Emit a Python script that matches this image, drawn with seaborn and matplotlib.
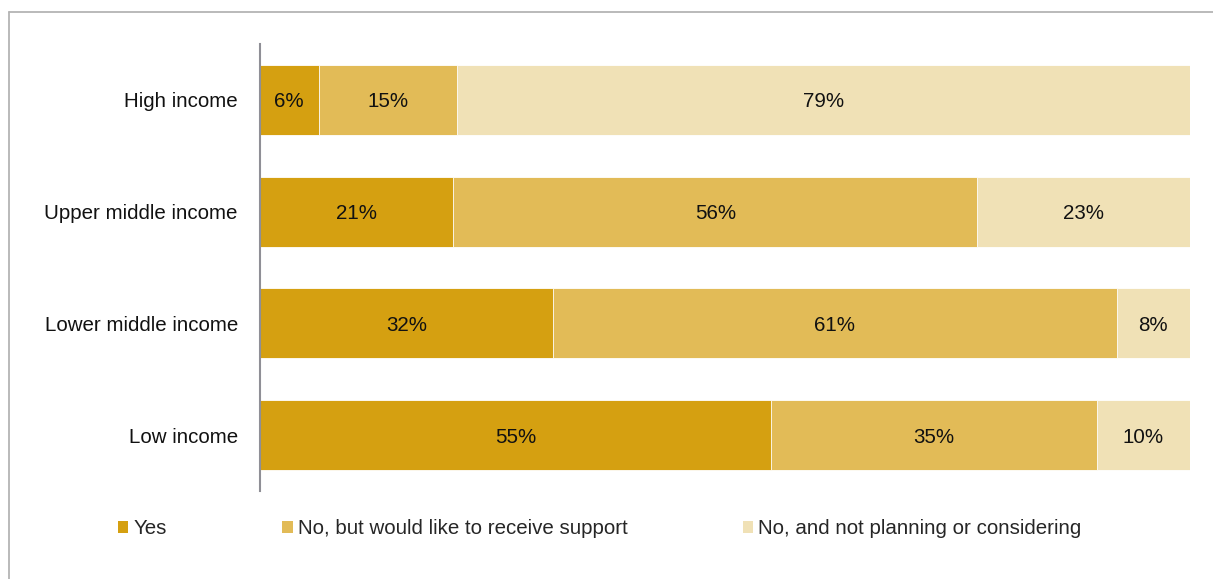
import matplotlib
matplotlib.use("Agg")
import matplotlib.pyplot as plt
from matplotlib.patches import Patch
from matplotlib.lines import Line2D
import seaborn as sns
import pandas as pd
import numpy as np

categories = ["High income", "Upper middle income", "Lower middle income", "Low income"]
series_names = ["Yes", "No, but would like to receive support", "No, and not planning or considering"]
yes_vals = [6.3, 20.8, 31.5, 54.9]
no_support_vals = [14.9, 56.3, 60.6, 35.1]
no_plan_vals = [78.8, 22.9, 7.9, 10.0]
colors = ["#D5A011", "#E2BB57", "#F0E1B6"]

sns.set_theme(style="white")
plt.rcParams['font.family'] = ['Liberation Sans', 'DejaVu Sans']
FS = 14.8

df = pd.DataFrame({"category": categories, series_names[0]: yes_vals,
                   series_names[1]: no_support_vals, series_names[2]: no_plan_vals})
vals = df[series_names].to_numpy(dtype=float)
cum = np.cumsum(vals, axis=1)
starts = cum - vals

fig = plt.figure(figsize=(12.13, 5.79), dpi=100)
ax = fig.add_axes([260/1213, 1-491/579, (1190-260)/1213, (491-44)/579])

for i in reversed(range(3)):
    d = pd.DataFrame({"category": categories, "value": cum[:, i]})
    sns.barplot(data=d, x="value", y="category", order=categories, orient="h",
                color=colors[i], saturation=1, width=0.625, edgecolor="white",
                linewidth=0.6, ax=ax)

for r in range(len(categories)):
    for i in range(3):
        ax.text(starts[r, i] + vals[r, i] / 2, r, f"{vals[r, i]:.0f}%",
                ha="center", va="center_baseline", fontsize=FS, color="#111111")

ax.set_xlim(0, 100)
ax.set_ylim(3.5, -0.5)
ax.set_xlabel("")
ax.set_ylabel("")
ax.set_xticks([])
ax.tick_params(axis="y", length=0, pad=16, labelsize=FS, labelcolor="#111111")
for s in ["top", "right", "bottom"]:
    ax.spines[s].set_visible(False)
ax.spines["left"].set_color("#8f8f96")
ax.spines["left"].set_linewidth(1.5)

handles = [Patch(facecolor=c, edgecolor="none") for c in colors]
fig.legend(handles, series_names, loc="center left",
           bbox_to_anchor=(118/1213, 1-529/579), ncol=3, frameon=False,
           fontsize=FS, handlelength=0.5, handleheight=0.5, handletextpad=0.25,
           columnspacing=5.62, borderpad=0, borderaxespad=0)

fig.add_artist(Line2D([8.5/1213, 1], [1-11.5/579, 1-11.5/579], transform=fig.transFigure,
                      color="#b4b4b4", lw=1.3))
fig.add_artist(Line2D([8.5/1213, 8.5/1213], [0, 1-11.5/579], transform=fig.transFigure,
                      color="#b4b4b4", lw=1.3))

fig.savefig("out.png", dpi=100)
